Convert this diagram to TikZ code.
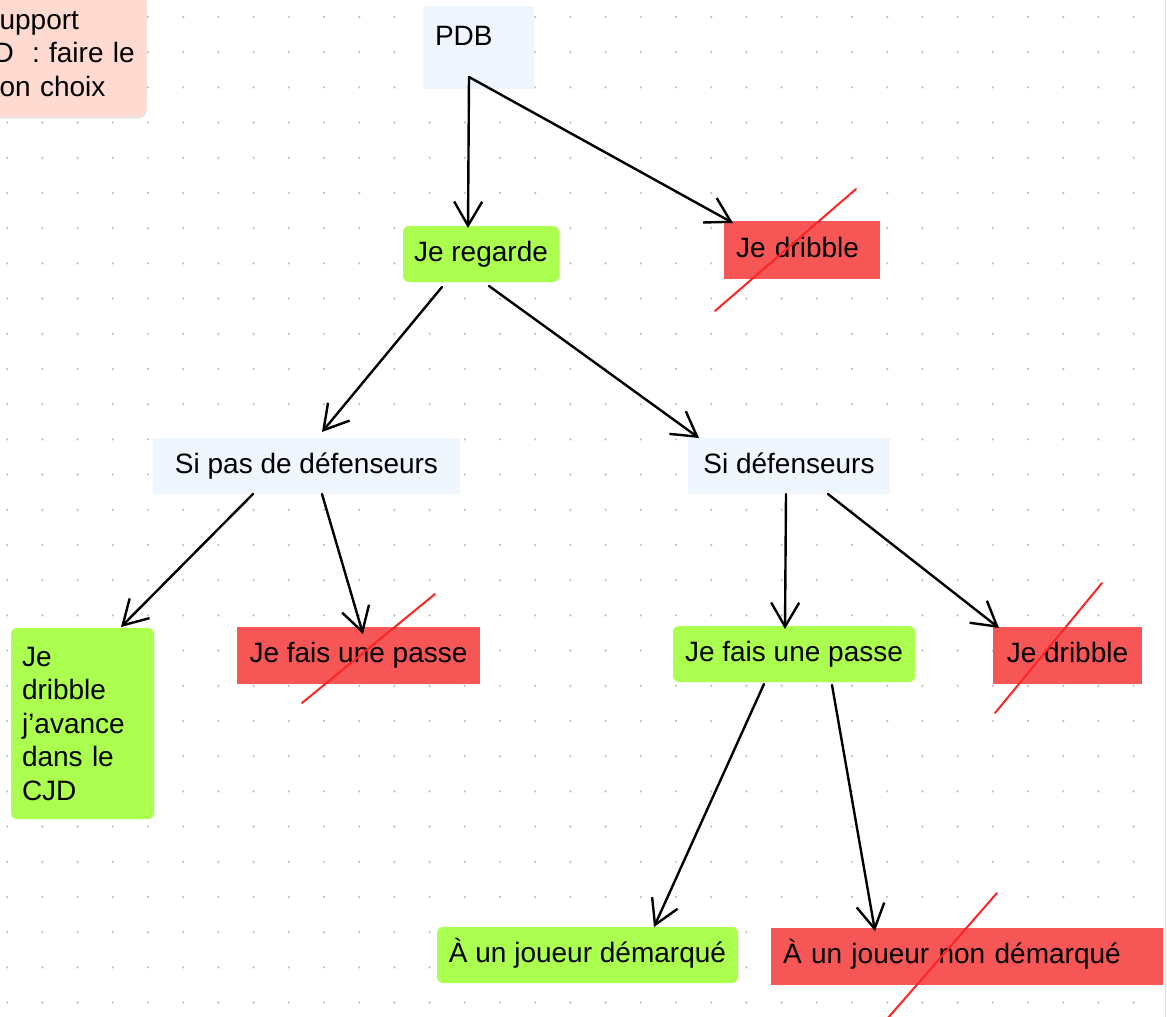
\documentclass[tikz,border=0pt]{standalone}
\usepackage{fontspec}
\setmainfont{Liberation Sans}
\usetikzlibrary{arrows.meta,shadows}
\definecolor{okgreen}{HTML}{ABFF4F}
\definecolor{nored}{HTML}{F65656}
\definecolor{askblue}{HTML}{F0F6FE}
\definecolor{notepink}{HTML}{FFDAD1}
\definecolor{crossred}{HTML}{FF2424}
\definecolor{dotgrey}{HTML}{C4C4C4}
\tikzset{
  cell/.style={inner sep=0pt, outer sep=0pt, text height=10pt, text depth=3pt, anchor=north west},
  okbox/.style={cell, fill=okgreen, rounded corners=3pt},
  nobox/.style={cell, fill=nored},
  askbox/.style={cell, fill=askblue},
  arr/.style={-{Straight Barb[length=12pt,width=14pt]}, line width=1.2pt, line cap=round, line join=round},
  cross/.style={crossred, line width=1pt, line cap=round},
}
\begin{document}
\begin{tikzpicture}[x=0.5pt, y=-0.5pt, font=\fontsize{14pt}{16.75pt}\selectfont]
    \useasboundingbox (0,0) rectangle (1167,1017);
    \fill[white] (0,0) rectangle (1167,1017);
    \foreach \i in {0,...,32}
      \foreach \j in {0,...,28}
        \fill[dotgrey] (7.2+35.2*\i, 17+35.2*\j) circle (0.65pt); % dot grid
    \draw[gray!25, line width=0.8pt] (1165.5,0) -- (1165.5,1017);

    % note cut by the left edge
    \node[fill=notepink, rounded corners=4pt, drop shadow={shadow xshift=0pt, shadow yshift=-1pt, opacity=0.2},
      anchor=south east, minimum width=80pt, minimum height=62.6pt, inner xsep=3.5pt, inner ysep=0pt,
      text width=73pt, align=left] (note) at (147,117)
      {\hspace*{3pt}upport\\D\hspace{9.1pt}: faire le\\\hspace*{3pt}on choix};

    \node[askbox, minimum width=55.5pt, minimum height=41.5pt, inner xsep=6pt, text width=43.5pt, align=left,
      text height=19.5pt, text depth=22pt] (pdb) at (423,6) {PDB};
    \node[okbox, minimum width=78pt, minimum height=28pt] (regarde) at (403,226) {Je regarde};
    \node[nobox, minimum width=78pt, minimum height=29pt, inner xsep=6pt, text width=66pt, align=left] (dribbleA) at (724,221) {Je dribble};
    \node[askbox, minimum width=153.5pt, minimum height=28pt] (sipas) at (153,438) {Si pas de défenseurs};
    \node[askbox, minimum width=101pt, minimum height=28pt] (sidef) at (688,438) {Si défenseurs};
    \node[fill=okgreen, rounded corners=3pt, anchor=north west, outer sep=0pt, minimum width=71.5pt, minimum height=95.5pt,
      inner xsep=5.5pt, inner ysep=0pt, text width=60.5pt, align=left] (dribavance) at (11,628)
      {Je\\dribble\\j’avance\\dans le\\CJD};
    \node[nobox, minimum width=121.5pt, minimum height=28.5pt] (passeA) at (237,627) {Je fais une passe};
    \node[okbox, minimum width=121pt, minimum height=28pt] (passeB) at (673,626) {Je fais une passe};
    \node[nobox, minimum width=74.5pt, minimum height=28.5pt] (dribbleB) at (993,627) {Je dribble};
    \node[okbox, minimum width=150.5pt, minimum height=28pt] (demarque) at (437,927) {À un joueur démarqué};
    \node[nobox, minimum width=196pt, minimum height=28.5pt, inner xsep=6pt, text width=184pt, align=left] (nondem) at (771,928) {À un joueur non démarqué};

    \coordinate (pdbout) at (469,77); % both arrows leave from inside PDB
    \draw[arr] (pdbout) -- ([xshift=-6.5pt,yshift=-1pt]regarde.north);
    \draw[arr] (pdbout) -- ([xshift=4.5pt,yshift=-1pt]dribbleA.north west);
    \draw[arr] ([xshift=-19.5pt,yshift=-2.5pt]regarde.south) -- ([xshift=7.75pt,yshift=3pt]sipas.north);
    \draw[arr] ([xshift=4pt,yshift=-2pt]regarde.south) -- ([xshift=5.5pt]sidef.north west);
    \draw[arr] ([xshift=-26.75pt]sipas.south) -- ([xshift=19.25pt,yshift=0.5pt]dribavance.north);
    \draw[arr] ([xshift=7.75pt]sipas.south) -- ([xshift=2.25pt,yshift=-3.5pt]passeA.north);
    \draw[arr] ([xshift=-1.5pt]sidef.south) -- ([xshift=-4.5pt,yshift=-1.5pt]passeB.north);
    \draw[arr] ([xshift=19.5pt]sidef.south) -- ([xshift=3pt,yshift=-0.5pt]dribbleB.north west);
    \draw[arr] ([xshift=-15pt,yshift=-1pt]passeB.south) -- ([xshift=33.25pt]demarque.north);
    \draw[arr] ([xshift=19pt,yshift=-1.5pt]passeB.south) -- ([xshift=52pt,yshift=-1.5pt]nondem.north west);

    % crossed out choices
    \draw[cross] ([xshift=-4.5pt,yshift=-16pt]dribbleA.south west) -- ([xshift=-12pt,yshift=16pt]dribbleA.north east);
    \draw[cross] ([xshift=32.5pt,yshift=-9.5pt]passeA.south west) -- ([xshift=-22.5pt,yshift=16.5pt]passeA.north east);
    \draw[cross] ([xshift=1pt,yshift=-14.5pt]dribbleB.south west) -- ([xshift=-20pt,yshift=22pt]dribbleB.north east);
    \draw[cross] ([xshift=58pt,yshift=-17pt]nondem.south west) -- ([xshift=-83pt,yshift=17.5pt]nondem.north east);
\end{tikzpicture}
\end{document}
